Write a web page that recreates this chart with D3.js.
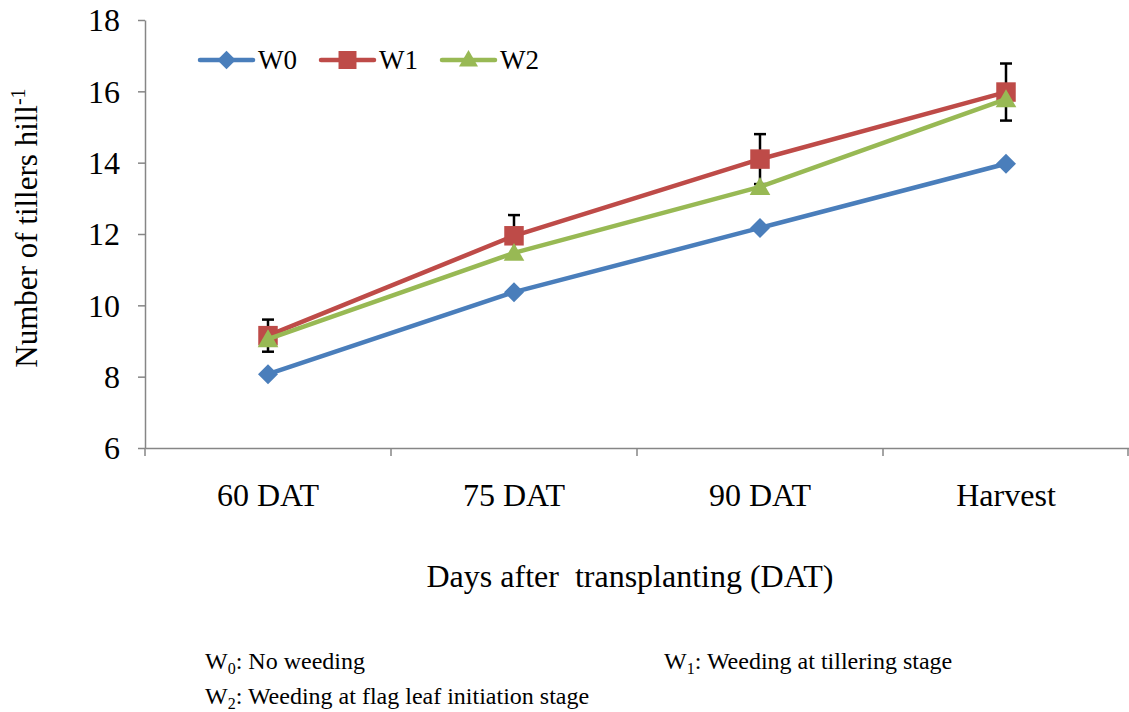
<!DOCTYPE html>
<html>
<head>
<meta charset="utf-8">
<script src="https://cdn.jsdelivr.net/npm/d3@7"></script>
<style>
  body { margin: 0; background: #fff; }
</style>
</head>
<body>
<svg id="chart" width="1129" height="712" font-family="Liberation Serif"></svg>
<script>
const categories = ['60 DAT', '75 DAT', '90 DAT', 'Harvest'];
const seriesNames = ['W0', 'W1', 'W2'];
const w0Values = [8.07, 10.37, 12.17, 13.97];
const w1Values = [9.15, 11.95, 14.1, 15.98];
const w2Values = [9.05, 11.47, 13.32, 15.78];
const w1Errors = [0.45, 0.58, 0.7, 0.8];
const yTicks = [6, 8, 10, 12, 14, 16, 18];

const colors = ['#4A7EBB', '#BE4B48', '#98B954'];
const FONT = 'Liberation Serif';

const svg = d3.select('#chart');
const margin = {left: 145, right: 0, top: 20, bottom: 264};
const W = 1129, H = 712;

const x = d3.scaleBand().domain(categories).range([margin.left, W - margin.right]);
const y = d3.scaleLinear().domain([6, 18]).range([H - margin.bottom, margin.top]);

// marker shapes: diamond = rotated square
const markers = [
  {type: d3.symbolSquare, size: 200, rot: 45, dy: 0},
  {type: d3.symbolSquare, size: 380, rot: 0, dy: 0},
  {type: d3.symbolTriangle, size: 185, rot: 0, dy: 2}
];

// axes
const axisColor = '#868686';
const yAxis = svg.append('g')
  .attr('transform', `translate(${margin.left},0)`)
  .call(d3.axisLeft(y).tickValues(yTicks).tickSize(7).tickSizeOuter(0).tickPadding(18));
yAxis.attr('font-family', FONT);
yAxis.selectAll('line, path').attr('stroke', axisColor).attr('stroke-width', 1.5);
yAxis.selectAll('text').attr('font-size', 32).attr('dy', '0.34em');

const xAxis = svg.append('g')
  .attr('transform', `translate(0,${y(6)})`)
  .call(d3.axisBottom(x).tickSize(0).tickPadding(35));
xAxis.attr('font-family', FONT);
xAxis.select('path').attr('stroke', axisColor).attr('stroke-width', 1.5);
xAxis.selectAll('text').attr('font-size', 32);
// category boundary ticks
const bounds = categories.map(c => x(c)).concat([x.range()[1] - 1]);
svg.append('g').selectAll('line').data(bounds).join('line')
  .attr('x1', d => d).attr('x2', d => d)
  .attr('y1', y(6)).attr('y2', y(6) + 8)
  .attr('stroke', axisColor).attr('stroke-width', 1.5);

const cx = c => x(c) + x.bandwidth() / 2;

// error bars (W1)
const eb = svg.append('g');
categories.forEach((c, i) => {
  const top = y(w1Values[i] + w1Errors[i]), bot = y(w1Values[i] - w1Errors[i]);
  eb.append('line').attr('x1', cx(c)).attr('x2', cx(c)).attr('y1', top).attr('y2', bot)
    .attr('stroke', '#000').attr('stroke-width', 2.5);
  [top, bot].forEach(v => eb.append('line').attr('x1', cx(c) - 6).attr('x2', cx(c) + 6)
    .attr('y1', v).attr('y2', v).attr('stroke', '#000').attr('stroke-width', 2.5));
});

// series
const allValues = [w0Values, w1Values, w2Values];
const line = d3.line().x((d, i) => cx(categories[i])).y(d => y(d));
allValues.forEach((vals, s) => {
  const g = svg.append('g');
  const m = markers[s];
  g.append('path').datum(vals).attr('d', line)
    .attr('fill', 'none').attr('stroke', colors[s]).attr('stroke-width', 4.5)
    .attr('stroke-linejoin', 'round');
  g.selectAll('path.m').data(vals).join('path').attr('class', 'm')
    .attr('transform', (d, i) => `translate(${cx(categories[i])},${y(d) + m.dy}) rotate(${m.rot})`)
    .attr('d', d3.symbol().type(m.type).size(m.size))
    .attr('fill', colors[s]);
});

// legend
const legendX = [200, 321, 442];
seriesNames.forEach((n, s) => {
  const m = markers[s];
  const g = svg.append('g').attr('transform', `translate(${legendX[s]},60)`);
  g.append('line').attr('x1', 0).attr('x2', 53).attr('stroke', colors[s])
    .attr('stroke-width', 4.5).attr('stroke-linecap', 'round');
  g.append('path').attr('transform', `translate(26.5,${m.dy / 2}) rotate(${m.rot})`)
    .attr('d', d3.symbol().type(m.type).size(m.size * 0.85)).attr('fill', colors[s]);
  g.append('text').attr('x', 58).attr('y', 9).attr('font-size', 27).text(n);
});

// axis titles
svg.append('text').attr('transform', 'translate(37,228) rotate(-90)')
  .attr('text-anchor', 'middle').attr('font-size', 31)
  .html('Number of tillers hill<tspan dy="-12" font-size="20">-1</tspan>');
svg.append('text').attr('x', 630).attr('y', 587).attr('text-anchor', 'middle')
  .attr('font-size', 32).style('white-space', 'pre').text('Days after  transplanting (DAT)');

// footnotes
const notes = [
  {x: 205, y: 669, sub: '0', t: ': No weeding'},
  {x: 664, y: 669, sub: '1', t: ': Weeding at tillering stage'},
  {x: 205, y: 704, sub: '2', t: ': Weeding at flag leaf initiation stage'}
];
notes.forEach(n => {
  const t = svg.append('text').attr('x', n.x).attr('y', n.y).attr('font-size', 24);
  t.append('tspan').text('W');
  t.append('tspan').attr('dy', 5).attr('font-size', 16).text(n.sub);
  t.append('tspan').attr('dy', -5).text(n.t);
});
</script>
</body>
</html>
